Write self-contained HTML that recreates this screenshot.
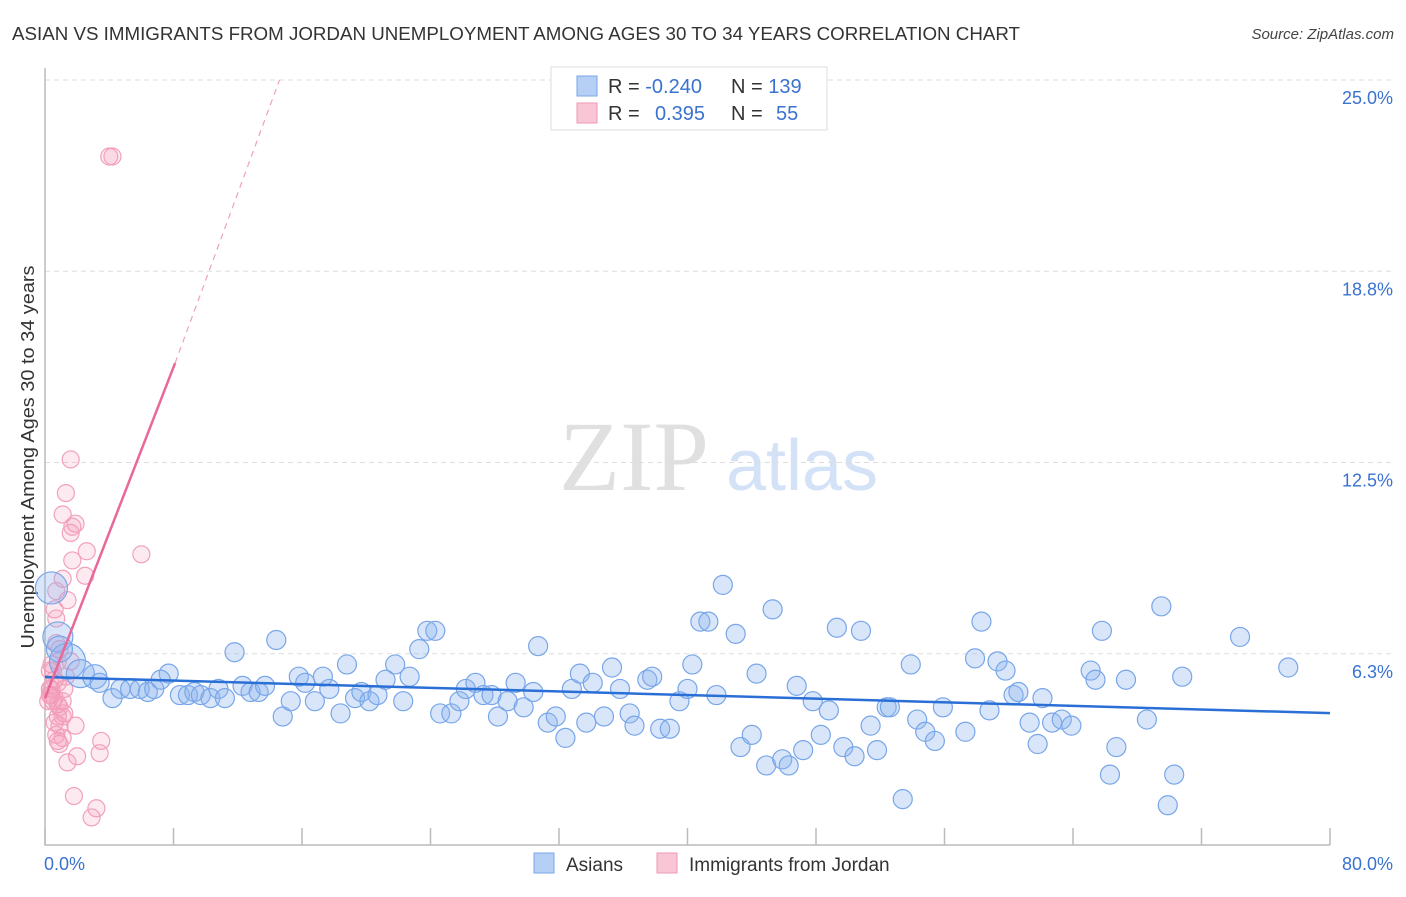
<!DOCTYPE html>
<html><head><meta charset="utf-8"><style>
body{margin:0;background:#fff;font-family:"Liberation Sans",sans-serif}
</style></head><body>
<svg id="chart" width="1406" height="892" xmlns="http://www.w3.org/2000/svg" font-family="Liberation Sans, sans-serif">
<text x="12" y="40" font-size="18" fill="#333" textLength="1008" lengthAdjust="spacingAndGlyphs">ASIAN VS IMMIGRANTS FROM JORDAN UNEMPLOYMENT AMONG AGES 30 TO 34 YEARS CORRELATION CHART</text>
<text x="1394" y="39" font-size="15" fill="#444" font-style="italic" text-anchor="end">Source: ZipAtlas.com</text>
<text transform="translate(34,457) rotate(-90)" font-size="18" fill="#333" text-anchor="middle" textLength="383" lengthAdjust="spacingAndGlyphs">Unemployment Among Ages 30 to 34 years</text>
<g>
<text x="634" y="490" font-size="100" fill="#e0e0e0" font-family="Liberation Serif, serif" text-anchor="middle">ZIP</text>
<text x="802" y="490" font-size="72" fill="#d3e2f6" text-anchor="middle">atlas</text>
</g>
<g id="grid"></g><g id="axes"></g><g id="pink"></g><g id="blue"></g><g id="trend"></g>
<g>
<rect x="551" y="67" width="276" height="63" fill="#fff" stroke="#ddd"/>
<rect x="577" y="76" width="20" height="20" fill="#b5cff5" stroke="#7aa6e6"/>
<rect x="577" y="103" width="20" height="20" fill="#f9c6d5" stroke="#ef9ab4"/>
<text x="608" y="93" font-size="20" fill="#333">R = <tspan fill="#3a72d0">-0.240</tspan></text>
<text x="731" y="93" font-size="20" fill="#333">N = <tspan fill="#3a72d0">139</tspan></text>
<text x="608" y="120" font-size="20" fill="#333">R = <tspan fill="#3a72d0" x="655">0.395</tspan></text>
<text x="731" y="120" font-size="20" fill="#333">N = <tspan fill="#3a72d0" x="776">55</tspan></text>
</g>
<g>
<rect x="534" y="853" width="20" height="20" fill="#b5cff5" stroke="#7aa6e6"/>
<text x="566" y="871" font-size="19" fill="#333">Asians</text>
<rect x="657" y="853" width="20" height="20" fill="#f9c6d5" stroke="#ef9ab4"/>
<text x="689" y="871" font-size="19" fill="#333">Immigrants from Jordan</text>
</g>
</svg>
<script>
const yTicks=[6.25,12.5,18.75,25];
const yTickLabels=["6.3%","12.5%","18.8%","25.0%"];
const xTicks=[0,8,16,24,32,40,48,56,64,72,80];
const blueX=[0.4,0.8,1.4,0.9,2.2,3.1,3.4,4.2,4.7,5.3,5.9,6.4,6.8,7.7,7.2,8.4,8.9,9.3,9.7,10.3,10.8,11.2,11.8,12.3,12.8,13.3,13.7,14.4,14.8,15.3,15.8,16.2,16.8,17.3,17.7,18.4,18.8,19.3,19.7,20.2,20.7,21.2,21.8,22.3,22.7,23.3,23.8,24.3,24.6,25.3,25.8,26.2,26.8,27.3,27.8,28.2,28.8,29.3,29.8,30.4,30.7,31.3,31.8,32.4,32.8,33.3,33.7,34.1,34.8,35.3,35.8,36.4,36.7,37.5,37.8,38.3,38.9,39.5,40.0,40.3,40.8,41.3,41.8,42.2,43.0,43.3,44.0,44.3,44.9,45.3,45.9,46.3,46.8,47.2,47.8,48.3,48.8,49.3,49.7,50.4,50.8,51.4,51.8,52.4,52.6,53.4,53.9,54.3,54.8,55.4,55.9,57.3,57.9,58.3,58.8,59.3,59.8,60.3,60.6,61.3,61.8,62.1,62.7,63.3,63.9,65.1,65.4,65.8,66.3,66.7,67.3,68.6,69.5,69.9,70.3,70.8,74.4,77.4];
const blueY=[8.4,6.8,6.0,6.4,5.6,5.5,5.3,4.8,5.1,5.1,5.1,5.0,5.1,5.6,5.4,4.9,4.9,5.0,4.9,4.8,5.1,4.8,6.3,5.2,5.0,5.0,5.2,6.7,4.2,4.7,5.5,5.3,4.7,5.5,5.1,4.3,5.9,4.8,5.0,4.7,4.9,5.4,5.9,4.7,5.5,6.4,7.0,7.0,4.3,4.3,4.7,5.1,5.3,4.9,4.9,4.2,4.7,5.3,4.5,5.0,6.5,4.0,4.2,3.5,5.1,5.6,4.0,5.3,4.2,5.8,5.1,4.3,3.9,5.4,5.5,3.8,3.8,4.7,5.1,5.9,7.3,7.3,4.9,8.5,6.9,3.2,3.6,5.6,2.6,7.7,2.8,2.6,5.2,3.1,4.7,3.6,4.4,7.1,3.2,2.9,7.0,3.9,3.1,4.5,4.5,1.5,5.9,4.1,3.7,3.4,4.5,3.7,6.1,7.3,4.4,6.0,5.7,4.9,5.0,4.0,3.3,4.8,4.0,4.1,3.9,5.7,5.4,7.0,2.3,3.2,5.4,4.1,7.8,1.3,2.3,5.5,6.8,5.8];
const blueSize=[16,15,18,13,14,12];
const pinkX=[4.0,4.2,1.6,1.3,1.1,1.9,1.6,1.7,2.6,6.0,1.7,2.5,1.1,0.7,1.4,0.6,0.7,0.7,0.9,0.8,0.4,0.3,0.6,0.4,0.3,0.5,0.8,1.1,1.2,0.8,1.1,0.6,0.9,1.9,0.8,0.9,3.5,2.0,3.4,1.4,1.8,3.2,2.9,0.2,0.4,0.6,0.3,1.2,1.3,1.6,0.9,0.7,1.1,0.8,0.5];
const pinkY=[22.5,22.5,12.6,11.5,10.8,10.5,10.2,10.4,9.6,9.5,9.3,8.8,8.7,8.3,8.0,7.7,7.4,6.6,6.4,6.0,5.9,5.7,5.4,5.1,4.9,4.7,4.6,4.7,4.3,4.2,4.2,4.0,3.9,3.9,3.4,3.3,3.4,2.9,3.0,2.7,1.6,1.2,0.9,4.7,4.9,4.8,5.1,5.1,5.5,6.0,4.5,3.6,3.5,5.3,5.7];
const blueTrend=[[0,5.49],[80,4.31]];
const pinkTrendSolid=[[0,4.8],[8.1,15.75]];
const pinkTrendDash=[[8.1,15.75],[14.6,25]];

const NS="http://www.w3.org/2000/svg";
const X=v=>45+v/80*1285;
const Y=v=>845-v*30.6;
function mk(tag,parent,attrs){const e=document.createElementNS(NS,tag);for(const k in attrs)e.setAttribute(k,attrs[k]);document.getElementById(parent).appendChild(e);return e;}
yTicks.forEach((t,i)=>{
  const l=mk('line','grid',{x1:45,x2:1392,y1:Y(t),y2:Y(t),stroke:'#ddd','stroke-dasharray':'5,4'});
  
  
  const tx=mk('text','grid',{x:1393,y:Y(t)+24,'font-size':18,fill:'#3a72d0','text-anchor':'end'});
  tx.textContent=yTickLabels[i];
  
  
});
const ax=mk('path','axes',{d:`M45,68 V845 H1330`,stroke:'#bbb',fill:'none','stroke-width':1.5});


xTicks.forEach(t=>{
  const l=mk('line','axes',{x1:X(t),x2:X(t),y1:828,y2:845,stroke:'#bbb','stroke-width':1.5});
  
  
});
const x0=mk('text','axes',{x:44,y:870,'font-size':18,fill:'#3a72d0'});x0.textContent='0.0%';


const x1=mk('text','axes',{x:1393,y:870,'font-size':18,fill:'#3a72d0','text-anchor':'end'});x1.textContent='80.0%';


pinkX.forEach((v,i)=>{
  const c=mk('circle','pink',{cx:X(v),cy:Y(pinkY[i]),r:8.5,fill:'rgba(244,150,178,0.2)',stroke:'#f2a0bb','stroke-width':1.2});
  
  
});
blueX.forEach((v,i)=>{
  const c=mk('circle','blue',{cx:X(v),cy:Y(blueY[i]),r:blueSize[i]||9.5,fill:'rgba(140,180,240,0.33)',stroke:'#78a6e8','stroke-width':1.2});
  
  
});
const bt=mk('line','trend',{x1:X(blueTrend[0][0]),y1:Y(blueTrend[0][1]),x2:X(blueTrend[1][0]),y2:Y(blueTrend[1][1]),stroke:'#2a6fd6','stroke-width':2.5});


const ps=mk('line','trend',{x1:X(pinkTrendSolid[0][0]),y1:Y(pinkTrendSolid[0][1]),x2:X(pinkTrendSolid[1][0]),y2:Y(pinkTrendSolid[1][1]),stroke:'#e8689a','stroke-width':2.5});


const pd=mk('line','trend',{x1:X(pinkTrendDash[0][0]),y1:Y(pinkTrendDash[0][1]),x2:X(pinkTrendDash[1][0]),y2:Y(pinkTrendDash[1][1]),stroke:'#eea0bb','stroke-width':1.2,'stroke-dasharray':'6,5'});


</script>
</body></html>
